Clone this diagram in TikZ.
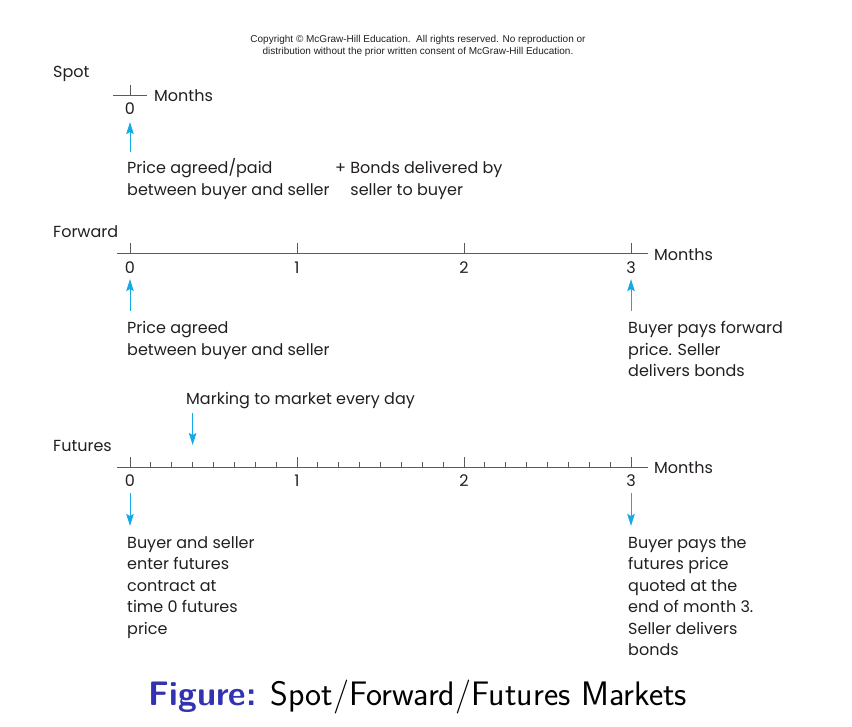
\documentclass[tikz,border=0pt]{standalone}
\usepackage{fontspec}
\setmainfont{Poppins}
\newfontfamily\noticefont{Liberation Sans}
\usetikzlibrary{arrows.meta,positioning}
\definecolor{ink}{RGB}{35,31,32}
\definecolor{axisgray}{RGB}{90,90,90}
\definecolor{cue}{RGB}{20,170,230}
\definecolor{structblue}{RGB}{51,51,178}

\begin{document}
\begin{tikzpicture}[x=1pt, y=-1pt,
  lbl/.style={inner sep=0pt, text=ink, font=\fontsize{16pt}{21.5pt}\selectfont},
  note/.style={lbl, align=left, anchor=base west},
  axis/.style={draw=axisgray, line width=0.8pt},
  flow/.style={-{Stealth[length=12pt,width=7.5pt,inset=2pt]}, draw=cue, line width=1pt}
]
\useasboundingbox (0,0) rectangle (852,727);

\node[inner sep=0pt, align=center, text=ink, font=\noticefont\fontsize{10pt}{12pt}\selectfont] (notice) at (418,46)
  {Copyright \textcopyright{} McGraw-Hill Education.\ \ All rights reserved. No reproduction or\\
   distribution without the prior written consent of McGraw-Hill Education.};

% spot
\node[lbl, anchor=west] (spotlabel) at (53,74) {Spot};
\draw[axis] (113,95) -- (147,95);
\draw[axis] (130,85) -- (130,95);
\node[lbl] (spotzero) at (130,109) {0};
\node[lbl, anchor=west] (spotmonths) at (154,96) {Months};
% base anchor sits on the last line
\node[note] (spotpaid) at (127,195.5) {Price agreed/paid\\between buyer and seller};
\node[note] (spotbonds) at (335,195.5) {+ Bonds delivered by\\\hphantom{+ }seller to buyer};
\draw[flow, shorten <=7pt, shorten >=7pt] (spotzero |- spotpaid.north) -- (spotzero.south);

% forward
\node[lbl, anchor=west] (fwdlabel) at (53,232) {Forward};
\draw[axis] (117,253) -- (648,253);
\foreach \m in {0,...,3} {
  \draw[axis] (130+167*\m,243) -- (130+167*\m,253);
  \node[lbl] (fwd\m) at (130+167*\m,268) {\m};
}
\node[lbl, anchor=west] (fwdmonths) at (654,255) {Months};
\node[note] (fwdagreed) at (127,355.5) {Price agreed\\between buyer and seller};
\node[note] (fwdpays) at (628,377) {Buyer pays forward\\price. Seller\\delivers bonds};
\draw[flow, shorten <=11pt, shorten >=5pt] (fwd0 |- fwdagreed.north) -- (fwd0.south);
\draw[flow, shorten <=11pt, shorten >=5pt] (fwd3 |- fwdpays.north) -- (fwd3.south);

% futures
\node[lbl, anchor=west] (marking) at (186,401) {Marking to market every day};
\node[lbl, anchor=west] (futlabel) at (53,446) {Futures};
\draw[axis] (117,467) -- (648,467);
\foreach \k [evaluate=\k as \h using {ifthenelse(mod(\k,8)==0,457,462)}] in {0,...,24}
  \draw[axis] (130+167*\k/8,\h) -- (130+167*\k/8,467);
\foreach \m in {0,...,3}
  \node[lbl] (fut\m) at (130+167*\m,481) {\m};
\node[lbl, anchor=west] (futmonths) at (654,468) {Months};
\coordinate (markday) at (130+167*3/8,457);
\node[note] (futenter) at (127,634) {Buyer and seller\\enter futures\\contract at\\time 0 futures\\price};
\node[note] (futpays) at (628,655.5) {Buyer pays the\\futures price\\quoted at the\\end of month 3.\\Seller delivers\\bonds};
\draw[flow, shorten <=4pt, shorten >=12pt] (marking.south -| markday) -- (markday);
\draw[flow, shorten <=6pt, shorten >=10pt] (fut0.south) -- (fut0 |- futenter.north);
\draw[flow, shorten <=6pt, shorten >=10pt] (fut3.south) -- (fut3 |- futpays.north);

\node[inner sep=0pt, font=\sffamily\fontsize{34pt}{40pt}\selectfont] (caption) at (418,697)
  {\textcolor{structblue}{\bfseries Figure:} Spot/Forward/Futures Markets};
\end{tikzpicture}
\end{document}
